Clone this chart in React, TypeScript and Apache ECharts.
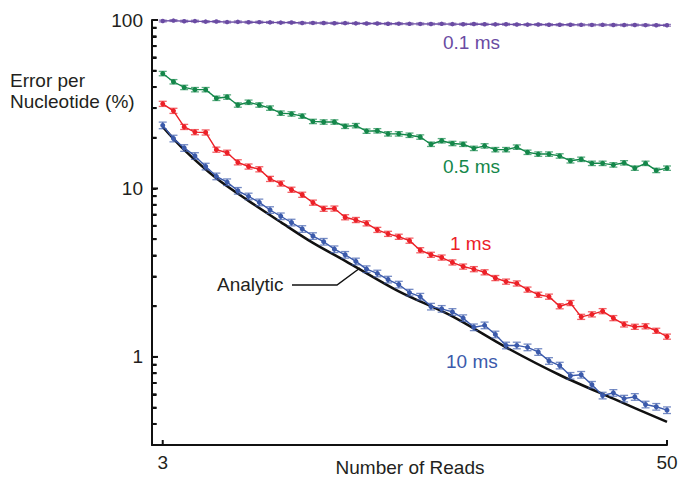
import React, { useEffect, useRef } from "react";
import * as echarts from "echarts";

const reads = [3, 4, 5, 6, 7, 8, 9, 10, 11, 12, 13, 14, 15, 16, 17, 18, 19, 20, 21, 22, 23, 24, 25, 26, 27, 28, 29, 30, 31, 32, 33, 34, 35, 36, 37, 38, 39, 40, 41, 42, 43, 44, 45, 46, 47, 48, 49, 50];

const err01ms = [98.6, 99.2, 98.4, 98.5, 97.8, 97.9, 97.2, 97.5, 97.0, 97.1, 96.8, 96.5, 96.6, 96.0, 96.1, 95.9, 95.7, 95.8, 95.5, 95.3, 95.4, 95.0, 95.1, 94.9, 94.8, 94.7, 94.9, 94.5, 94.4, 94.6, 94.3, 94.2, 94.3, 94.0, 93.9, 94.0, 93.8, 93.7, 93.8, 93.6, 93.5, 93.6, 93.4, 93.3, 93.4, 93.2, 93.1, 93.0];
const err05ms = [48.1, 43.0, 39.8, 38.6, 38.6, 34.3, 34.9, 31.3, 32.5, 31.3, 30.0, 28.0, 27.7, 26.9, 25.0, 24.8, 24.8, 23.4, 23.6, 21.9, 22.0, 21.1, 21.1, 20.7, 20.2, 18.3, 19.2, 18.5, 18.3, 17.3, 17.9, 17.0, 17.0, 17.6, 16.4, 16.0, 16.0, 15.6, 14.6, 14.9, 14.1, 14.1, 13.8, 14.2, 13.2, 14.1, 12.8, 13.2];
const err1ms = [31.8, 28.9, 23.2, 21.6, 21.5, 17.0, 16.3, 14.3, 13.5, 13.0, 11.4, 10.7, 9.83, 9.18, 8.24, 7.58, 7.6, 6.75, 6.5, 6.21, 5.68, 5.38, 5.17, 4.9, 4.3, 4.04, 3.89, 3.64, 3.44, 3.32, 3.18, 2.94, 2.8, 2.73, 2.51, 2.34, 2.28, 2.0, 2.09, 1.73, 1.79, 1.87, 1.7, 1.56, 1.51, 1.52, 1.43, 1.32];
const err10ms = [23.7, 19.8, 17.4, 15.6, 13.5, 11.8, 10.9, 9.69, 8.97, 8.27, 7.45, 6.84, 6.28, 5.75, 5.22, 4.83, 4.36, 4.04, 3.69, 3.32, 3.13, 2.88, 2.69, 2.41, 2.28, 1.99, 1.93, 1.85, 1.7, 1.5, 1.54, 1.36, 1.17, 1.17, 1.14, 1.07, 0.947, 0.889, 0.773, 0.784, 0.684, 0.59, 0.612, 0.566, 0.579, 0.522, 0.506, 0.483];

const analyticReads = [3, 5, 8, 11, 14, 17, 20, 25, 30, 35, 40, 45, 50];
const analyticValues = [23.2, 16.96, 11.5, 8.44, 6.31, 4.75, 3.72, 2.45, 1.74, 1.14, 0.781, 0.565, 0.411];

// relative half-width of the error bars, per series
const relErr = { p01: 0.012, p05: 0.03, p1: 0.035, p10: 0.045 };

const xTickValues = [3, 50];
const yMajorTicks = [1, 10, 100];
const yMinorTicks = [0.4, 0.5, 0.6, 0.7, 0.8, 0.9, 2, 3, 4, 5, 6, 7, 8, 9, 20, 30, 40, 50, 60, 70, 80, 90];

const X_MIN = 2;
const X_MAX = 50;
const Y_MIN = 0.3;
const Y_MAX = 100;

const FONT = "Liberation Sans, Arial, Helvetica, sans-serif";
const TEXT = "#231f20";
const AXIS = "#111111";

const PURPLE = "#6a4ba3";
const GREEN = "#14874a";
const RED = "#ec2027";
const BLUE = "#3b5aab";

function errSeries(values: number[], rel: number, color: string) {
  return {
    type: "custom",
    silent: true,
    z: 3,
    encode: { x: 0, y: [1, 2] },
    data: reads.map((r, i) => [r, values[i] * (1 - rel), values[i] * (1 + rel)]),
    renderItem: (_params: any, api: any) => {
      const x = api.value(0);
      const lo = api.coord([x, api.value(1)]);
      const hi = api.coord([x, api.value(2)]);
      const w = 4;
      const style = { stroke: color, lineWidth: 1.3, opacity: 0.7 };
      return {
        type: "group",
        children: [
          { type: "line", shape: { x1: lo[0], y1: lo[1], x2: hi[0], y2: hi[1] }, style },
          { type: "line", shape: { x1: lo[0] - w, y1: lo[1], x2: lo[0] + w, y2: lo[1] }, style },
          { type: "line", shape: { x1: hi[0] - w, y1: hi[1], x2: hi[0] + w, y2: hi[1] }, style },
        ],
      };
    },
  };
}

function lineSeries(values: number[], color: string, size: number) {
  return {
    type: "line",
    z: 4,
    data: reads.map((r, i) => [r, values[i]]),
    symbol: "circle",
    symbolSize: size,
    showSymbol: true,
    itemStyle: { color },
    lineStyle: { color, width: 1.4 },
  };
}

// y-axis tick marks as thin rectangles, placed via the axis scale
function yTickSeries() {
  const data = [
    ...yMajorTicks.map((v) => [X_MIN, v, 6]),
    ...yMinorTicks.map((v) => [X_MIN, v, 4.5]),
  ];
  return {
    type: "custom",
    silent: true,
    z: 20,
    clip: false,
    encode: { x: 0, y: 1 },
    data,
    renderItem: (_params: any, api: any) => {
      const p = api.coord([api.value(0), api.value(1)]);
      const len = api.value(2);
      return {
        type: "rect",
        shape: { x: p[0], y: p[1] - 1, width: len, height: 2 },
        style: { fill: AXIS },
      };
    },
  };
}

const baseGraphics = [
  {
    type: "text",
    x: 10,
    y: 70,
    style: { text: "Error per\nNucleotide (%)", font: `19px ${FONT}`, fill: TEXT, lineHeight: 21, verticalAlign: "top" },
  },
  {
    type: "text",
    x: 410,
    y: 467,
    style: { text: "Number of Reads", font: `19px ${FONT}`, fill: TEXT, align: "center", verticalAlign: "middle" },
  },
  { type: "text", x: 443, y: 42, style: { text: "0.1 ms", font: `19px ${FONT}`, fill: PURPLE, verticalAlign: "middle" } },
  { type: "text", x: 443, y: 166, style: { text: "0.5 ms", font: `19px ${FONT}`, fill: GREEN, verticalAlign: "middle" } },
  { type: "text", x: 450, y: 243, style: { text: "1 ms", font: `19px ${FONT}`, fill: RED, verticalAlign: "middle" } },
  { type: "text", x: 446, y: 361, style: { text: "10 ms", font: `19px ${FONT}`, fill: BLUE, verticalAlign: "middle" } },
  { type: "text", x: 217, y: 284, style: { text: "Analytic", font: `19px ${FONT}`, fill: TEXT, verticalAlign: "middle" } },
  {
    type: "polyline",
    shape: { points: [[292, 285], [337, 285], [360, 268]] },
    style: { stroke: AXIS, lineWidth: 1.5, fill: null },
  },
];

export default function App() {
  const ref = useRef<HTMLDivElement>(null);
  useEffect(() => {
    if (!ref.current) return;
    const chart = echarts.init(ref.current, undefined, { renderer: "svg" });
    chart.setOption({
      animation: false,
      backgroundColor: "#ffffff",
      grid: { left: 152, right: 11, top: 20, bottom: 40, containLabel: false, outerBoundsMode: "none" },
      xAxis: {
        type: "value",
        min: X_MIN,
        max: X_MAX,
        axisLine: { lineStyle: { color: AXIS, width: 2 } },
        axisTick: { show: false },
        axisLabel: { customValues: xTickValues, fontFamily: FONT, fontSize: 19, color: TEXT, margin: 8 },
        splitLine: { show: false },
      },
      yAxis: {
        type: "log",
        logBase: 10,
        min: Y_MIN,
        max: Y_MAX,
        splitLine: { show: false },
        axisLine: { show: true, lineStyle: { color: AXIS, width: 2 } },
        axisTick: {
          show: true,
          inside: true,
          length: 4.5,
          lineStyle: { color: AXIS, width: 2 },
          customValues: [...yMajorTicks, ...yMinorTicks],
        },
        axisLabel: { customValues: yMajorTicks, fontFamily: FONT, fontSize: 19, color: TEXT, margin: 9 },
      },
      series: [
        errSeries(err01ms, relErr.p01, PURPLE),
        lineSeries(err01ms, PURPLE, 4.5),
        errSeries(err05ms, relErr.p05, GREEN),
        lineSeries(err05ms, GREEN, 5),
        errSeries(err1ms, relErr.p1, RED),
        lineSeries(err1ms, RED, 5),
        errSeries(err10ms, relErr.p10, BLUE),
        lineSeries(err10ms, BLUE, 5),
        {
          type: "line",
          z: 2,
          data: analyticReads.map((r, i) => [r, analyticValues[i]]),
          smooth: 0.3,
          showSymbol: false,
          lineStyle: { color: AXIS, width: 2.5 },
        },
        yTickSeries(),
      ],
      graphic: baseGraphics,
    });

    // x-axis ticks at 3 and 50, positioned through the chart's scales
    const xTicks = xTickValues.map((v) => {
      const p = chart.convertToPixel({ gridIndex: 0 }, [v, Y_MIN]) as number[];
      return { type: "line", z: 100, shape: { x1: p[0], y1: p[1], x2: p[0], y2: p[1] - 5 }, style: { stroke: AXIS, lineWidth: 2 } };
    });
    chart.setOption({ graphic: [...baseGraphics, ...xTicks] });

    return () => chart.dispose();
  }, []);
  return <div ref={ref} style={{ position: "fixed", left: 0, top: 0, width: 678, height: 485 }} />;
}
